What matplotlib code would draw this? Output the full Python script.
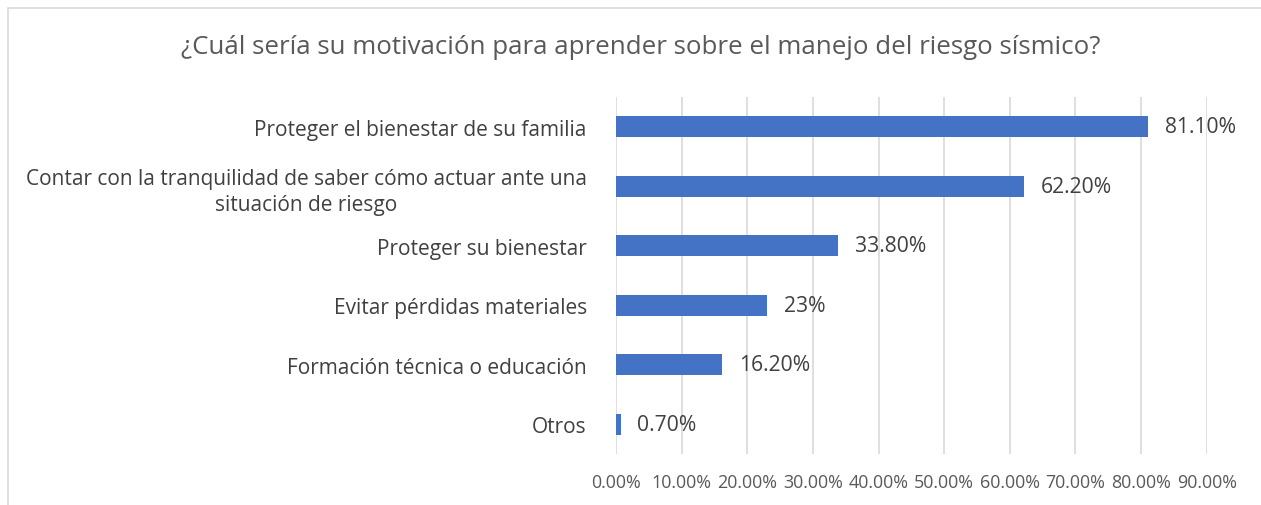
import matplotlib
matplotlib.use('Agg')

import matplotlib.pyplot as plt
from matplotlib.patches import Rectangle
from matplotlib.ticker import FuncFormatter

title = '¿Cuál sería su motivación para aprender sobre el manejo del riesgo sísmico?'
categories = [
    'Proteger el bienestar de su familia',
    'Contar con la tranquilidad de saber cómo actuar ante una\nsituación de riesgo',
    'Proteger su bienestar',
    'Evitar pérdidas materiales',
    'Formación técnica o educación',
    'Otros',
]
values = [0.811, 0.622, 0.338, 0.23, 0.162, 0.007]
value_labels = ['81.10%', '62.20%', '33.80%', '23%', '16.20%', '0.70%']
x_ticks = [0.0, 0.1, 0.2, 0.3, 0.4, 0.5, 0.6, 0.7, 0.8, 0.9]

plt.rcParams['font.family'] = ['Open Sans', 'DejaVu Sans']

fig = plt.figure(figsize=(12.61, 5.06), dpi=100)
ax = fig.add_axes([0.4885, 0.1008, 0.4685, 0.7055])

# chart border like the Excel frame (cut at right/bottom)
fig.patches.append(Rectangle((8 / 1261, -0.1), 1.2, 1.1 - 9 / 506,
                             transform=fig.transFigure, fill=False,
                             edgecolor='#d9d9d9', linewidth=1.2))

y = range(len(categories))
ax.barh(y, values, height=0.35, color='#4472C4', zorder=3)

for yi, v, lab in zip(y, values, value_labels):
    ax.annotate(lab, (v, yi), xytext=(12, 0), textcoords='offset points',
                va='center', ha='left', fontsize=15.2, color='#404040')

ax.set_xlim(0, 0.9)
ax.set_ylim(len(categories) - 0.5, -0.5)
ax.set_xticks(x_ticks)
ax.xaxis.set_major_formatter(FuncFormatter(lambda v, p: f'{v * 100:.2f}%'))
ax.set_yticks(list(y))
ax.set_yticklabels(categories)
for t in ax.get_yticklabels():
    t.set_multialignment('center')
    t.set_linespacing(1.3)

ax.tick_params(axis='y', length=0, pad=21, labelsize=15, labelcolor='#404040')
ax.tick_params(axis='x', length=0, pad=14, labelsize=12.9, labelcolor='#595959')
ax.grid(axis='x', color='#d9d9d9', linewidth=1.2, zorder=0)
for s in ax.spines.values():
    s.set_visible(False)

fig.text(0.508, 1 - 48 / 506, title, ha='center', va='center',
         fontsize=18.6, color='#595959')

plt.savefig('out.png', dpi=100)
plt.close(fig)
